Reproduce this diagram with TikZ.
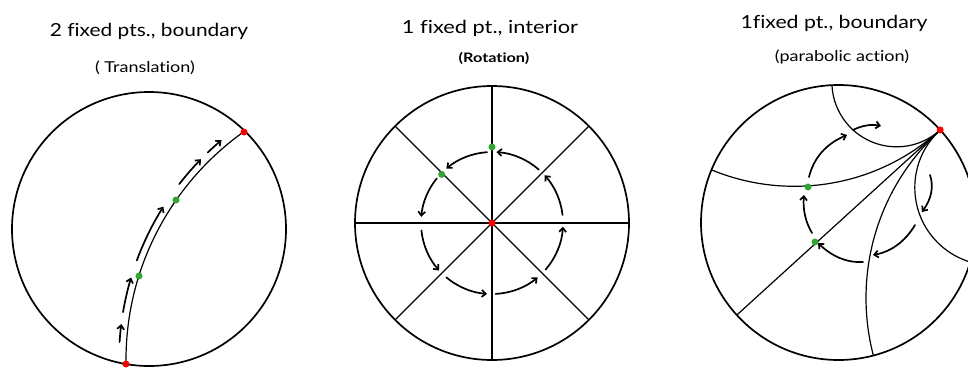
\documentclass[tikz,border=0pt]{standalone}
\usepackage{fontspec}
\setmainfont{Lato}[Ligatures=NoCommon]
\usetikzlibrary{arrows.meta}
\definecolor{ptgreen}{RGB}{50,165,50}
\definecolor{ptred}{RGB}{250,0,0}
\begin{document}
\begin{tikzpicture}[x=1pt,y=-1pt,
  disk/.style={line width=1.7pt},
  geo/.style={line width=1.2pt},
  arr/.style={line width=1.7pt, line cap=round, -{Straight Barb[length=4pt,width=7pt]}},
  reddot/.style={circle, fill=ptred, inner sep=0pt, minimum size=7pt},
  greendot/.style={circle, fill=ptgreen, inner sep=0pt, minimum size=7pt},
  title/.style={font=\fontsize{18}{21}\selectfont},
  sub/.style={font=\fontsize{15}{18}\selectfont}]
\useasboundingbox (0,0) rectangle (968,367);
\clip (0,0) rectangle (968,367);
\fill[white] (0,0) rectangle (968,367);

% ---------- titles ----------
\node[title] (t1) at (149,31) {\scalebox{1.16}[1]{2 fixed pts., boundary}};
\node[sub]   (s1) at (145,68) {\scalebox{1.2}[1]{( Translation)}};
\node[title] (t2) at (490,28) {\scalebox{1.21}[1]{1 fixed pt., interior}};
\node[sub, font=\bfseries\fontsize{13}{16}\selectfont] (s2) at (494,58) {\scalebox{1.25}[1]{(Rotation)}};
\node[title] (t3) at (834,23) {\scalebox{1.18}[1]{1fixed pt., boundary}};
\node[sub]   (s3) at (842,57) {\scalebox{1.2}[1]{(parabolic action)}};

% ---------- panel 1 : translation ----------
\draw[disk] (149,229) circle[radius=137];
\begin{scope}
  \clip (149,229) circle[radius=137];
  \draw[geo] (406,360) circle[radius=280];
\end{scope}
\foreach \a/\b in {183.6/187.2, 189.6/196.7, 200.3/212.3, 217.8/224.4, 226.3/230.0}{
  \draw[arr] ([shift={(\a:287)}]406,360) arc[start angle=\a, end angle=\b, radius=287];
}
\node[reddot]   (r1a) at (126,364) {};
\node[reddot]   (r1b) at (244,132) {};
\node[greendot] (g1a) at (139,276) {};
\node[greendot] (g1b) at (176,200) {};

% ---------- panel 2 : rotation ----------
\draw[disk] (492,223) circle[radius=137];
\foreach \a in {0,45,90,135}{
  \draw[geo] ([shift={(\a:137)}]492,223) -- ([shift={(\a+180:137)}]492,223);
}
\foreach \a/\b in {-94/-130, -141/-175, -186/-222, -230/-266, -273/-310, -319/-357, -366.5/-402.3, -408.7/-446.4}{
  \draw[arr] ([shift={(\a:71)}]492,223) arc[start angle=\a, end angle=\b, radius=71];
}
\node[reddot]   (r2)  at (492,223) {};
\node[greendot] (g2a) at (492,147) {};
\node[greendot] (g2b) at ([shift={(-136:70)}]492,223) {};

% ---------- panel 3 : parabolic ----------
\draw[disk] (838.5,222.5) circle[radius=137.5];
\begin{scope}
  \clip (838.5,222.5) circle[radius=137.5];
  \draw[geo] (896.6,82.1) circle[radius=64.7];
  \draw[geo] (794.4,-30.3) circle[radius=216.6];
  \draw[geo] (1093,298) circle[radius=227];
  \draw[geo] (992.6,187.5) circle[radius=77.8];
  \draw[geo] ([shift={(-42.3:137.5)}]838.5,222.5) -- ([shift={(137.7:137.5)}]838.5,222.5);
\end{scope}
\draw[arr] (809,177) .. controls (813.7,157.7) and (826.3,143.7) .. (847,135);
\draw[arr] (853,130) .. controls (862.3,125.3) and (871.7,124) .. (881,126);
\draw[arr] (930,175) .. controls (934,186.7) and (931.3,199) .. (922,212);
\draw[arr] (915,225) .. controls (905,241.7) and (891,251.7) .. (873,255);
\draw[arr] (863,262) .. controls (847.3,263) and (832.3,256.7) .. (818,243);
\draw[arr] (812,233) .. controls (805.3,221.7) and (802.7,209) .. (804,195);
\node[reddot]   (r3)  at ([shift={(-42.3:137.5)}]838.5,222.5) {};
\node[greendot] (g3a) at (808,187) {};
\node[greendot] (g3b) at (815,242) {};
\end{tikzpicture}
\end{document}
